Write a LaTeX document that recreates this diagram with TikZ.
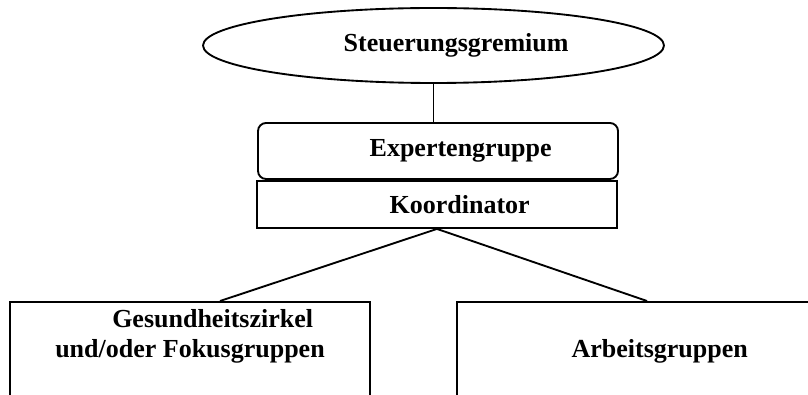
\documentclass[tikz,border=0pt]{standalone}
\usepackage{fontspec}
\setmainfont{Liberation Serif}
\usetikzlibrary{shapes.geometric}
\begin{document}
\begin{tikzpicture}
	[x=0.75pt,y=-0.75pt,
	every node/.style={font=\fontsize{19.5}{22.5}\selectfont\bfseries},
	oval/.style={ellipse,draw,line width=1.4pt,minimum width=345.75pt,minimum height=56.25pt},
	box/.style={rectangle,draw,line width=1.4pt,minimum width=270pt},
	group/.style={box,anchor=north,align=center,inner ysep=6pt,text height=36pt,text depth=80pt},
	link/.style={line width=1.4pt}]
	\path[use as bounding box,clip] (0,0) rectangle (808,395);
	\node[oval,name=gremium]at(433.5,45.5){\hspace*{34pt}Steuerungsgremium};
	\node[box,rounded corners=6pt,minimum height=42pt,name=expert]at(438,151){\hspace*{34pt}Expertengruppe};
	\node[box,minimum height=35.25pt,name=koord]at(437,204.5){\hspace*{34pt}Koordinator};
	\node[group,name=zirkel]at(190,301){\hspace*{34pt}Gesundheitszirkel\\und/oder Fokusgruppen};
	\node[group,name=arbeit]at(637,301){\hspace*{34pt}Arbeitsgruppen};
	\draw[link] (gremium.south)--(gremium.south|-expert.north);
	\draw[link] (koord.south)--([xshift=22.5pt]zirkel.north);
	\draw[link] (koord.south)--([xshift=7.5pt]arbeit.north);
\end{tikzpicture}
\end{document}
